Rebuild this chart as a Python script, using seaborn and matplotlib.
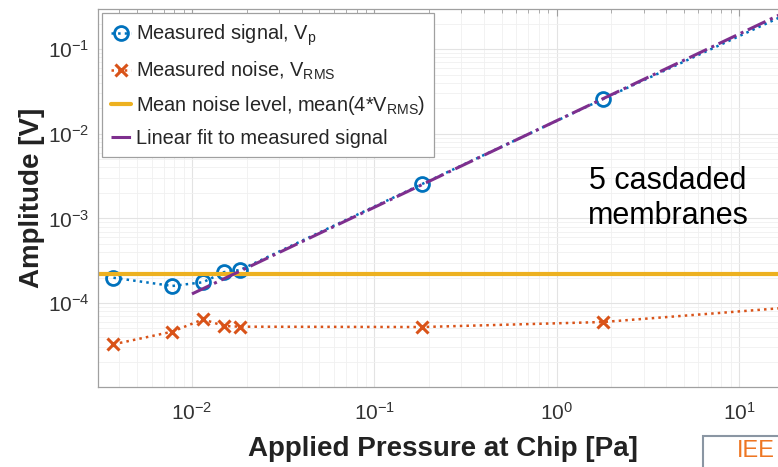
import matplotlib
matplotlib.use("Agg")
import matplotlib.pyplot as plt
import matplotlib.patches as mpatches
import seaborn as sns
import numpy as np

# ---- data ----
pressure = [0.00371, 0.00779, 0.0115, 0.0150, 0.0183, 0.183, 1.80, 18.3]
signal_vp = [1.99e-4, 1.59e-4, 1.76e-4, 2.32e-4, 2.45e-4, 2.55e-3, 2.58e-2, 0.26]
noise_vrms = [3.25e-5, 4.58e-5, 6.41e-5, 5.35e-5, 5.25e-5, 5.20e-5, 5.96e-5, 8.8e-5]
mean_noise_level = 2.23e-4
fit_pressure = [0.0100, 18.3]
fit_amplitude = [1.28e-4, 0.28]

labels = [
    "Measured signal, V$_\\mathregular{p}$",
    "Measured noise, V$_\\mathregular{RMS}$",
    "Mean noise level, mean(4*V$_\\mathregular{RMS}$)",
    "Linear fit to measured signal",
]

sns.set_style("white")
plt.rcParams["font.family"] = ["Liberation Sans", "DejaVu Sans"]
plt.rcParams["mathtext.fontset"] = "custom"
plt.rcParams["mathtext.rm"] = "Liberation Sans"
plt.rcParams["mathtext.it"] = "Liberation Sans:italic"
plt.rcParams["mathtext.bf"] = "Liberation Sans:bold"
plt.rcParams["mathtext.sf"] = "Liberation Sans"

W, H = 778, 467
fig = plt.figure(figsize=(W / 100, H / 100), dpi=100)
left, right, bottom, top = 97.7, 778, 387, 9.3
ax = fig.add_axes([left / W, 1 - bottom / H, (right - left) / W, (bottom - top) / H])

blue = "#0072BD"
orange = "#D95319"
yellow = "#EDB120"
purple = "#7E2F8E"

sns.lineplot(x=pressure, y=signal_vp, ax=ax, color=blue, linestyle=":", lw=1.8,
             marker="o", markersize=10, markerfacecolor="none", markeredgecolor=blue,
             markeredgewidth=2.0, label=labels[0], sort=False, estimator=None)
sns.lineplot(x=pressure, y=noise_vrms, ax=ax, color=orange, linestyle=":", lw=1.8,
             marker="x", markersize=8, markeredgecolor=orange, markeredgewidth=2.2,
             label=labels[1], sort=False, estimator=None)
ax.axhline(mean_noise_level, color=yellow, lw=3.0, label=labels[2])
sns.lineplot(x=fit_pressure, y=fit_amplitude, ax=ax, color=purple, linestyle="-.", lw=2.2,
             label=labels[3], sort=False, estimator=None)

ax.set_xscale("log")
ax.set_yscale("log")
ax.set_xlim(10 ** -2.517, 10 ** 1.2145)
ax.set_ylim(10 ** -4.993, 10 ** -0.528)

ax.set_xticks([1e-2, 1e-1, 1e0, 1e1])
ax.set_yticks([1e-4, 1e-3, 1e-2, 1e-1])

ax.grid(True, which="major", color="#e3e3e3", lw=0.8)
ax.grid(True, which="minor", color="#f0f0f0", lw=0.6)
ax.set_axisbelow(True)

for s in ["left", "bottom", "top"]:
    ax.spines[s].set_color("#a0a0a0")
    ax.spines[s].set_linewidth(0.9)
ax.spines["right"].set_visible(False)

ax.tick_params(which="both", direction="in", top=True, right=False, colors="#a0a0a0",
               labelcolor="#333333")
ax.tick_params(which="major", length=5, width=0.8, labelsize=15)
ax.tick_params(which="minor", length=3, width=0.6)
ax.tick_params(axis="x", which="major", pad=11)
ax.tick_params(axis="y", which="major", pad=6)

ax.set_xlabel("Applied Pressure at Chip [Pa]", fontsize=20, fontweight="bold",
              color="#222222")
ax.xaxis.set_label_coords(0.5076, -0.131)
ax.set_ylabel("Amplitude [V]", fontsize=20, fontweight="bold", color="#222222",
              labelpad=2)

leg = ax.legend(loc="upper left", fontsize=14.4, frameon=True, fancybox=False,
                framealpha=1, edgecolor="#a0a0a0", handlelength=1.0,
                handletextpad=0.25, borderaxespad=0.2, labelspacing=0.6,
                borderpad=0.45)
leg.get_frame().set_linewidth(0.9)

fig.text(668 / W, 1 - 166 / H, "5 casdaded\nmembranes", fontsize=22, color="black",
         ha="center", va="top", linespacing=1.2)

rect = mpatches.Rectangle((703 / W, 1 - 490 / H), 100 / W, 54 / H,
                          transform=fig.transFigure, facecolor="white",
                          edgecolor="#8a96a3", lw=1.5, clip_on=False)
fig.patches.append(rect)
fig.text(737 / W, 1 - 451 / H, "IEE", fontsize=17, color="#EE7623",
         ha="left", va="center")

fig.savefig("out.png", dpi=100)
